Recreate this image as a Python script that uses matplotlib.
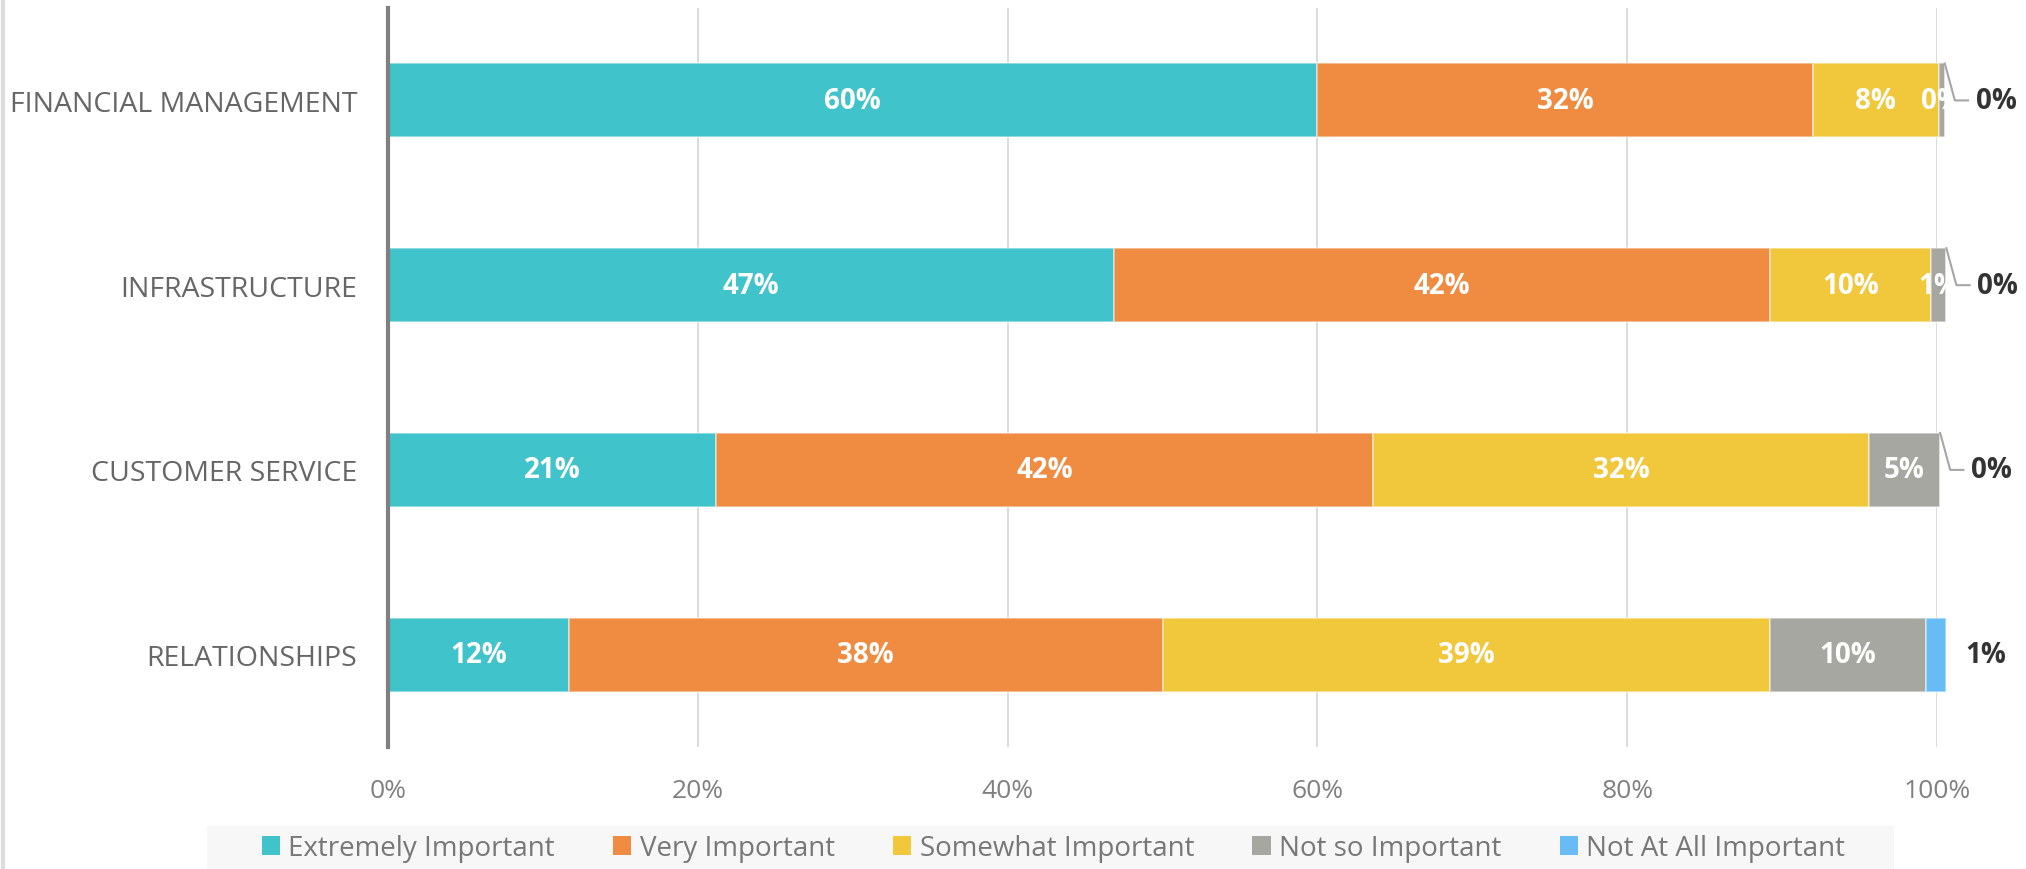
import numpy as np
import matplotlib.pyplot as plt
from matplotlib.lines import Line2D
from matplotlib.patches import Rectangle

plt.rcParams['font.family'] = ['Open Sans', 'DejaVu Sans']

categories = ['FINANCIAL MANAGEMENT', 'INFRASTRUCTURE', 'CUSTOMER SERVICE', 'RELATIONSHIPS']
series = ['Extremely Important', 'Very Important', 'Somewhat Important',
          'Not so Important', 'Not At All Important']
extremely = [60.0, 46.9, 21.2, 11.7]
very = [32.0, 42.3, 42.4, 38.3]
somewhat = [8.1, 10.4, 32.0, 39.2]
not_so = [0.4, 1.0, 4.6, 10.1]
not_at_all = [0.0, 0.0, 0.0, 1.3]
colors = ['#40c3ca', '#f08c42', '#f1c83c', '#a7a7a1', '#67bdf3']
ticks = [0, 20, 40, 60, 80, 100]

values = [extremely, very, somewhat, not_so, not_at_all]

fig = plt.figure(figsize=(20.26, 8.7), dpi=100)
ax = fig.add_axes([0.1915, 0.1402, 0.7646, 0.8494])

y = np.arange(len(categories))
left = np.zeros(len(categories))
for vals, name, col in zip(values, series, colors):
    vals = np.array(vals)
    ax.barh(y, vals, left=left, height=0.4, color=col, label=name,
            edgecolor=(1, 1, 1, 0.5), linewidth=1.2, zorder=2, clip_on=False)
    if name != 'Not At All Important':
        for yi, l, v in zip(y, left, vals):
            ax.text(l + v / 2, yi, f"{int(v + 0.5)}%", ha='center', va='center',
                    color='white', fontsize=20, fontweight='bold', zorder=3)
    left = left + vals

# outside labels for the last series
for yi, tot, v in zip(y, left, not_at_all):
    if v == 0:
        top = yi - 0.2
        ax.plot([tot, tot + 0.65, tot + 1.5], [top, yi, yi], color='#a6a6a6',
                lw=1.5, clip_on=False, zorder=3)
        ax.text(tot + 2.0, yi, f"{int(v + 0.5)}%", ha='left', va='center',
                color='#333333', fontsize=20, fontweight='bold')
    else:
        ax.text(tot + 1.2, yi, f"{int(v + 0.5)}%", ha='left', va='center',
                color='#333333', fontsize=20, fontweight='bold')

ax.set_xlim(0, 100)
ax.set_ylim(len(categories) - 0.5, -0.5)
ax.set_yticks(y)
ax.set_yticklabels(categories, fontsize=20.5, color='#666666')
ax.set_xticks(ticks)
ax.set_xticklabels([f"{t}%" for t in ticks], fontsize=19, color='#808080')
ax.tick_params(axis='both', length=0)
ax.tick_params(axis='y', pad=22)
ax.tick_params(axis='x', pad=22)
ax.grid(axis='x', color='#d9d9d9', lw=1.3, zorder=0)
ax.set_axisbelow(True)
for s in ['top', 'right', 'bottom']:
    ax.spines[s].set_visible(False)
ax.spines['left'].set_color('#808080')
ax.spines['left'].set_linewidth(3)
ax.spines['left'].set_zorder(4)

# legend band
fig.patches.append(Rectangle((0.102, 0.0), 0.833, 0.05, transform=fig.transFigure,
                             facecolor='#f7f7f7', edgecolor='none', zorder=0))
handles = [Rectangle((0, 0), 1, 1, facecolor=c, edgecolor='none') for c in colors]
fig.legend(handles, series, loc='center', bbox_to_anchor=(0.52, 0.024), ncol=5,
           frameon=False, fontsize=20, labelcolor='#777777', handlelength=0.65,
           handleheight=0.65, handletextpad=0.3, columnspacing=2.1)

fig.add_artist(Line2D([0.0015, 0.0015], [0, 1], transform=fig.transFigure,
                      color='#dddddd', lw=3))

fig.savefig('out.png', dpi=100)
